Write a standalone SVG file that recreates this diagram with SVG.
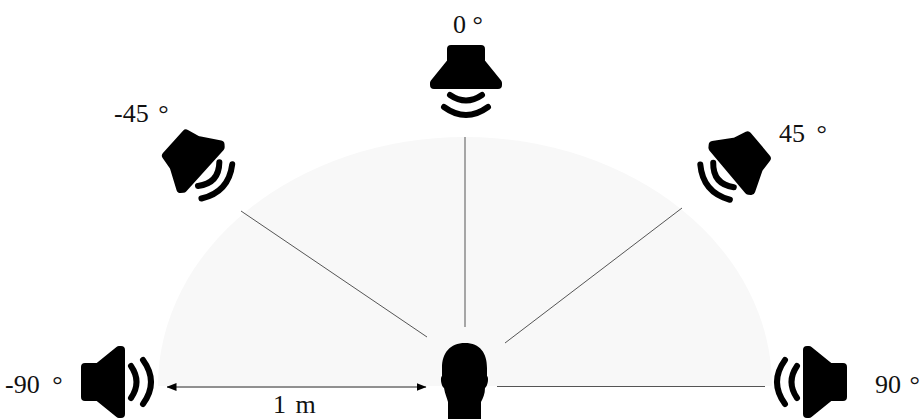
<svg xmlns="http://www.w3.org/2000/svg" xmlns:xlink="http://www.w3.org/1999/xlink" width="920" height="419" viewBox="0 0 920 419">
<style>
.t{font-family:"Liberation Serif","DejaVu Serif",serif;font-size:26px;fill:#111}
.l{stroke:#555;stroke-width:1;fill:none}
.w{fill:none;stroke:#000;stroke-width:6;stroke-linecap:round}
.b{fill:#000;stroke:#000;stroke-width:8;stroke-linejoin:round}
</style>
<defs>
<marker id="ah" viewBox="0 0 10 8" refX="9.500" refY="4" markerWidth="10" markerHeight="8" markerUnits="userSpaceOnUse" orient="auto-start-reverse"><path d="M0,0L10,4L0,8Z" fill="#000"/></marker>
<g id="spk">
<path class="b" d="M-33,-15L-20,-15L1,-32L3,-32L3,32L1,32L-20,15L-33,15Z"/>
<path class="w" d="M13,-16Q24,0 13,16"/>
<path class="w" d="M25,-22Q41,0 25,22"/>
</g>
<g id="spkd">
<path class="b" d="M-29,-15L-16,-18L4,-30L6,-28L6,28L4,30L-16,18L-29,15Z"/>
<path class="w" d="M15,-16Q29,0 15,16"/>
<path class="w" d="M26,-23Q42,0 26,23"/>
</g>
</defs>
<rect width="920" height="419" fill="#fff"/>
<path id="field" d="M158,386A307,249 0 0 1 772,386Z" fill="#f8f8f8"/>
<g id="connectors">
<path class="l" d="M465,137V327"/>
<path class="l" d="M241,211L427,337"/>
<path class="l" d="M682,208L505,343"/>
<path class="l" d="M497,386.500H765"/>
<path d="M167,387H426" stroke="#222" stroke-width="1" fill="none" marker-start="url(#ah)" marker-end="url(#ah)"/>
</g>
<g id="speaker-m90"><use xlink:href="#spk" href="#spk" transform="translate(118,382)"/><text class="t" x="5" y="393" word-spacing="6">-90 °</text></g>
<g id="speaker-m45"><use xlink:href="#spkd" href="#spkd" transform="translate(197.500,164) rotate(42)"/><text class="t" x="114" y="122" word-spacing="3">-45 °</text></g>
<g id="speaker-0"><use xlink:href="#spk" href="#spk" transform="translate(466,82) rotate(90)"/><text class="t" x="453" y="33">0 °</text></g>
<g id="speaker-45"><use xlink:href="#spkd" href="#spkd" transform="translate(735,165.400) rotate(140)"/><text class="t" x="779" y="142" word-spacing="5">45 °</text></g>
<g id="speaker-90"><use xlink:href="#spk" href="#spk" transform="translate(810,382) rotate(180)"/><text class="t" x="875" y="393" word-spacing="2">90 °</text></g>
<g id="listener"><path d="M465,343C450,343 442,353 442,368L442,376C440,377 441,386 444,388C445,394 447,398 448,402L448,419H481L481,402C483,398 485,394 485,388C488,386 489,377 487,376L487,368C487,353 480,343 465,343Z" fill="#000"/></g>
<text id="distance" class="t" x="273" y="413" word-spacing="3">1 m</text>
</svg>
